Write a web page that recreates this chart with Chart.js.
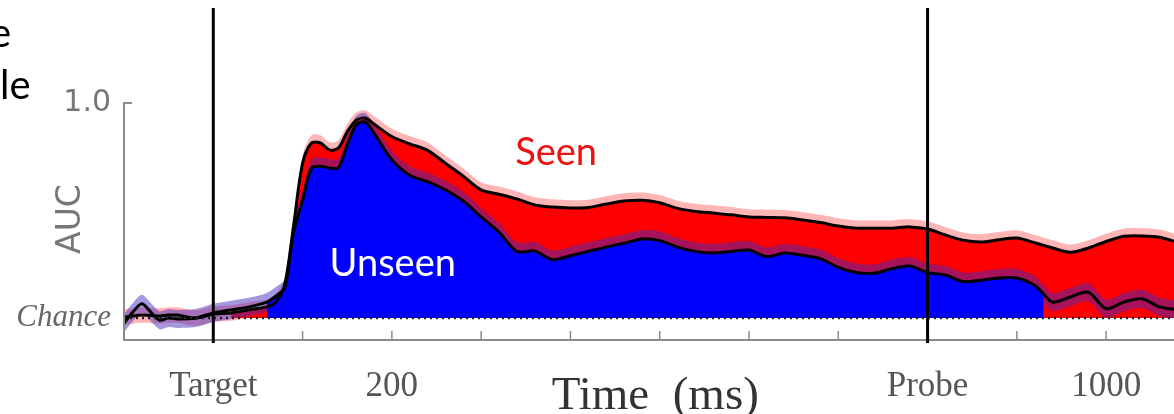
<!DOCTYPE html>
<html>
<head>
<meta charset="utf-8">
<script src="https://cdn.jsdelivr.net/npm/chart.js@4.4.1/dist/chart.umd.min.js"></script>
<style>
  html, body { margin: 0; padding: 0; background: #fff; }
  #wrap { width: 1174px; height: 414px; position: relative; }
</style>
</head>
<body>
<div id="wrap"><canvas id="aucChart"></canvas></div>
<script>
// Decoding AUC over time, 0 ms = target onset
const times = [-100, -90, -80, -70, -60, -50, -40, -20, 0, 20, 40, 60, 70, 80, 90, 100, 110, 120, 130, 140,
    150, 160, 170, 180, 200, 220, 240, 260, 280, 300, 320, 340, 360, 380, 400, 420, 440, 460, 480, 500,
    520, 540, 560, 580, 600, 620, 640, 660, 680, 700, 720, 740, 760, 780, 800, 820, 840, 860, 880, 900,
    920, 930, 940, 960, 980, 1000, 1020, 1040, 1060, 1080];

const seenAuc = [0.502, 0.505, 0.507, 0.506, 0.505, 0.507, 0.507, 0.500, 0.509, 0.512, 0.519, 0.526, 0.537, 0.577, 0.716, 0.860, 0.907, 0.907, 0.891, 0.895,
    0.933, 0.960, 0.965, 0.951, 0.922, 0.905, 0.890, 0.860, 0.830, 0.798, 0.788, 0.777, 0.763, 0.758, 0.756, 0.757, 0.765, 0.772, 0.774, 0.768,
    0.755, 0.748, 0.744, 0.740, 0.735, 0.734, 0.733, 0.728, 0.722, 0.714, 0.709, 0.709, 0.709, 0.712, 0.707, 0.693, 0.681, 0.677, 0.682, 0.686,
    0.675, 0.669, 0.663, 0.653, 0.663, 0.678, 0.690, 0.691, 0.688, 0.676];

const unseenAuc = [0.488, 0.514, 0.533, 0.514, 0.495, 0.500, 0.498, 0.500, 0.512, 0.519, 0.526, 0.537, 0.551, 0.570, 0.700, 0.774, 0.849, 0.853, 0.849, 0.849,
    0.902, 0.949, 0.956, 0.930, 0.868, 0.832, 0.817, 0.798, 0.772, 0.735, 0.700, 0.655, 0.656, 0.636, 0.645, 0.655, 0.665, 0.674, 0.684, 0.680,
    0.665, 0.655, 0.651, 0.655, 0.658, 0.643, 0.651, 0.646, 0.638, 0.618, 0.606, 0.604, 0.615, 0.621, 0.606, 0.600, 0.585, 0.588, 0.593, 0.593,
    0.576, 0.556, 0.537, 0.549, 0.560, 0.522, 0.537, 0.545, 0.526, 0.519];

const seenCI = 0.018;      // half width of the shaded band
const unseenCI = 0.021;
const seenSig = [20, 1080];    // window where the area is filled
const unseenSig = [60, 930];
const chance = 0.5;
const events = [0, 800];       // target, probe
const xTickLabels = { 0: 'Target', 200: '200', 800: 'Probe', 1000: '1000' };
const xTickMarks = [0, 100, 200, 300, 400, 500, 600, 700, 800, 900, 1000];
const yTickLabels = { 0.5: 'Chance', 1: '1.0' };

const line = vals => times.map((t, i) => ({ x: t, y: vals[i] }));
const offset = (vals, d) => times.map((t, i) => ({ x: t, y: vals[i] + d }));
const within = (vals, win) => times.map((t, i) => ({ x: t, y: (t >= win[0] && t <= win[1]) ? vals[i] : null }));

const decor = {
    id: 'decor',
    afterDatasetsDraw(chart) {
        const { ctx, chartArea, scales } = chart;
        const y0 = scales.y.getPixelForValue(chance);
        ctx.save();
        ctx.strokeStyle = '#222';
        ctx.lineWidth = 2.5;
        ctx.setLineDash([2, 4]);
        ctx.beginPath();
        ctx.moveTo(chartArea.left, y0);
        ctx.lineTo(chartArea.right, y0);
        ctx.stroke();
        ctx.restore();
    },
    afterDraw(chart) {
        const { ctx, chartArea, scales } = chart;
        const x = scales.x, y = scales.y;
        ctx.save();
        // axes
        ctx.strokeStyle = '#8c8c8c';
        ctx.lineWidth = 2;
        ctx.beginPath();
        ctx.moveTo(chartArea.left + 8, chartArea.top);
        ctx.lineTo(chartArea.left, chartArea.top);
        ctx.lineTo(chartArea.left, chartArea.bottom);
        ctx.lineTo(chartArea.right, chartArea.bottom);
        ctx.stroke();
        ctx.lineWidth = 1.5;
        ctx.beginPath();
        xTickMarks.forEach(v => {
            const px = x.getPixelForValue(v);
            ctx.moveTo(px, chartArea.bottom);
            ctx.lineTo(px, chartArea.bottom - 9);
        });
        ctx.stroke();

        // target / probe markers
        ctx.strokeStyle = '#000';
        ctx.lineWidth = 3;
        ctx.beginPath();
        events.forEach(v => {
            const px = x.getPixelForValue(v);
            ctx.moveTo(px, 8);
            ctx.lineTo(px, chartArea.bottom + 3);
        });
        ctx.stroke();

        // labels
        ctx.textAlign = 'center';
        ctx.textBaseline = 'middle';
        ctx.font = '38px Lato';
        ctx.fillStyle = '#ee1111';
        ctx.fillText('Seen', x.getPixelForValue(384), y.getPixelForValue(0.884));
        ctx.fillStyle = '#ffffff';
        ctx.fillText('Unseen', x.getPixelForValue(201), y.getPixelForValue(0.626));

        ctx.textBaseline = 'alphabetic';
        ctx.fillStyle = '#333';
        ctx.font = '47px "Liberation Serif"';
        ctx.fillText('Time  (ms)', x.getPixelForValue(495), chartArea.bottom + 69);

        ctx.save();
        ctx.translate(chartArea.left - 53, chartArea.top + 116);
        ctx.rotate(-Math.PI / 2);
        ctx.textBaseline = 'middle';
        ctx.fillStyle = '#777';
        ctx.font = '33px "DejaVu Sans"';
        ctx.fillText('AUC', 0, 0);
        ctx.restore();

        // cut-off slide text at the top left
        ctx.textAlign = 'left';
        ctx.fillStyle = '#000';
        ctx.font = '40px Lato';
        ctx.fillText('e', -10, 47);
        ctx.fillText('le', 0, 99);
        ctx.restore();
    }
};

new Chart(document.getElementById('aucChart'), {
    type: 'line',
    data: {
        datasets: [
            { data: line(seenAuc), borderColor: '#000', borderWidth: 3, order: 0 },
            { data: line(unseenAuc), borderColor: '#000', borderWidth: 3, order: 0 },
            { data: within(unseenAuc, unseenSig), borderColor: 'transparent', borderWidth: 0, backgroundColor: '#0000ff', fill: { value: chance }, order: 1 },
            { data: offset(unseenAuc, -unseenCI), borderColor: 'transparent', borderWidth: 0, order: 2 },
            { data: offset(unseenAuc, unseenCI), borderColor: 'transparent', borderWidth: 0, backgroundColor: 'rgba(70, 40, 190, 0.48)', fill: '-1', order: 2 },
            { data: within(seenAuc, seenSig), borderColor: 'transparent', borderWidth: 0, backgroundColor: '#ff0000', fill: { value: chance }, order: 3 },
            { data: offset(seenAuc, -seenCI), borderColor: 'transparent', borderWidth: 0, order: 4 },
            { data: offset(seenAuc, seenCI), borderColor: 'transparent', borderWidth: 0, backgroundColor: 'rgba(255, 150, 150, 0.7)', fill: '-1', order: 4 }
        ]
    },
    options: {
        responsive: true,
        maintainAspectRatio: false,
        animation: false,
        layout: { padding: { top: 103, left: 0, right: 0, bottom: 0 } },
        elements: {
            line: { tension: 0.3 },
            point: { radius: 0 }
        },
        plugins: {
            legend: { display: false },
            tooltip: { enabled: false }
        },
        scales: {
            x: {
                type: 'linear',
                min: -100,
                max: 1076,
                grid: { display: false, drawTicks: false },
                border: { display: false },
                afterBuildTicks: s => { s.ticks = Object.keys(xTickLabels).map(v => ({ value: +v })); },
                afterFit: s => { s.height = 74; },
                ticks: {
                    autoSkip: false,
                    maxRotation: 0,
                    padding: 26,
                    color: '#555',
                    font: { family: 'Liberation Serif', size: 35 },
                    callback: v => xTickLabels[v]
                }
            },
            y: {
                min: 0.449,
                max: 1.0,
                grid: { display: false, drawTicks: false },
                border: { display: false },
                afterBuildTicks: s => { s.ticks = Object.keys(yTickLabels).map(v => ({ value: +v })); },
                afterFit: s => { s.width = 124; },
                ticks: {
                    padding: 13,
                    color: c => c.tick && c.tick.value === chance ? '#666' : '#777',
                    font: c => c.tick && c.tick.value === chance
                        ? { family: 'Liberation Serif', style: 'italic', size: 31 }
                        : { family: 'DejaVu Sans', size: 30 },
                    callback: v => yTickLabels[v]
                }
            }
        }
    },
    plugins: [decor]
});
</script>
</body>
</html>
